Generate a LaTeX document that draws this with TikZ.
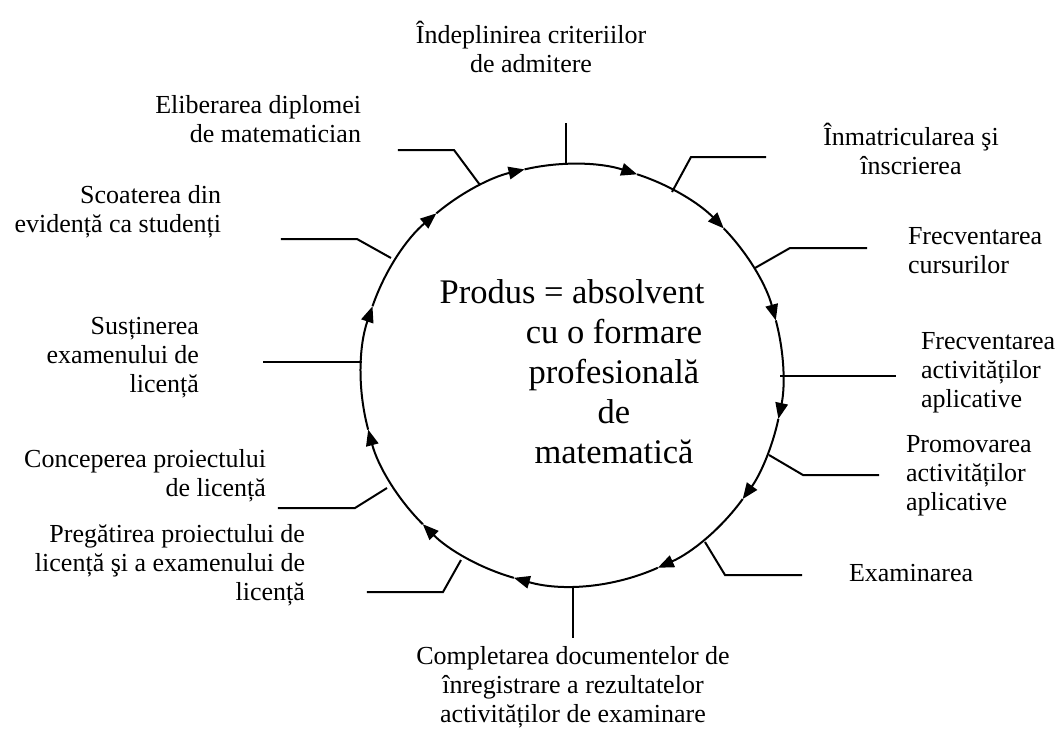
\documentclass[tikz,border=0pt]{standalone}
\usepackage{fontspec}
\setmainfont{Liberation Serif}
\usetikzlibrary{arrows.meta,positioning}

\begin{document}
\begin{tikzpicture}[x=1pt, y=1pt, line width=2pt,
	txt/.style={font=\fontsize{26}{29}\selectfont, inner sep=0pt},
	flow/.style={-{Triangle[length=16pt, width=12.5pt]}}]
	\useasboundingbox (-572,-354) rectangle (488,375);
	\def\r{211}
	% the cycle, clockwise
	\foreach \s/\e in {161/130, 130/103, 103/72, 72/44, 44/15, 15/-12, -12/-36, -36/-66, -66/-106, -106/-135, -135/-165, -165/-199}
		\draw[flow] (\s:\r) arc[start angle=\s, end angle=\e, radius=\r];

	% product
	\node[font=\fontsize{34.5}{40}\selectfont, inner sep=0pt] (prod) at (0,83) {Produs = absolvent};
	\node[font=\fontsize{34.5}{40}\selectfont, inner sep=0pt, align=center] (form) at (42,-17) {cu o formare\\profesională\\de\\matematică};

	% leader points
	\coordinate (c1) at (-6,211);   \coordinate (e1) at (-6,252);
	\coordinate (c2) at (100,183);  \coordinate (k2) at (119,218);  \coordinate (e2) at (194,218);
	\coordinate (c3) at (183,107);  \coordinate (k3) at (218,127);  \coordinate (e3) at (295,127);
	\coordinate (c4) at (208,-1);   \coordinate (e4) at (324,-1);
	\coordinate (c5) at (197,-80);  \coordinate (k5) at (231,-100); \coordinate (e5) at (307,-100);
	\coordinate (c6) at (133,-167); \coordinate (k6) at (153,-200); \coordinate (e6) at (230,-200);
	\coordinate (c7) at (1,-211);   \coordinate (e7) at (1,-263);
	\coordinate (c8) at (-111,-185); \coordinate (k8) at (-129,-217); \coordinate (e8) at (-205,-217);
	\coordinate (c9) at (-185,-113); \coordinate (k9) at (-217,-133); \coordinate (e9) at (-294,-133);
	\coordinate (c10) at (-210,13);  \coordinate (e10) at (-309,13);
	\coordinate (c11) at (-181,117); \coordinate (k11) at (-215,136); \coordinate (e11) at (-291,136);
	\coordinate (c12) at (-92,190);  \coordinate (k12) at (-118,225); \coordinate (e12) at (-174,225);

	\draw (c1) -- (e1);
	\draw (c2) -- (k2) -- (e2);
	\draw (c3) -- (k3) -- (e3);
	\draw (c4) -- (e4);
	\draw (c5) -- (k5) -- (e5);
	\draw (c6) -- (k6) -- (e6);
	\draw (c7) -- (e7);
	\draw (c8) -- (k8) -- (e8);
	\draw (c9) -- (k9) -- (e9);
	\draw (c10) -- (e10);
	\draw (c11) -- (k11) -- (e11);
	\draw (c12) -- (k12) -- (e12);

	% stages
	\node[txt, align=center] (admit) at (-41,328) {Îndeplinirea criteriilor\\de admitere};
	\node[txt, align=center] (inmat) at (339,226) {Înmatricularea şi\\înscrierea};
	\node[txt, align=left, anchor=west] (curs) at (335,124) {Frecventarea\\cursurilor};
	\node[txt, align=left, anchor=west] (aplic) at (348,2) {Frecventarea\\activităților\\aplicative};
	\node[txt, align=left, anchor=west] (promo) at (333,-101) {Promovarea\\activităților\\aplicative};
	\node[txt, anchor=west] (exam) at (276,-198) {Examinarea};
	\node[txt, align=center] (docs) at (1,-312) {Completarea documentelor de\\înregistrare a rezultatelor\\activităților de examinare};
	\node[txt, align=right, anchor=east] (preg) at (-266,-190) {Pregătirea proiectului de\\licență şi a examenului de\\licență};
	\node[txt, align=right, anchor=east] (conc) at (-305,-101) {Conceperea proiectului\\de licență};
	\node[txt, align=right, anchor=east] (sust) at (-372,17) {Susținerea\\examenului de\\licență};
	\node[txt, align=right, anchor=east] (scoat) at (-350,163) {Scoaterea din\\evidență ca studenți};
	\node[txt, align=right, anchor=east] (elib) at (-210,256) {Eliberarea diplomei\\de matematician};
\end{tikzpicture}
\end{document}
